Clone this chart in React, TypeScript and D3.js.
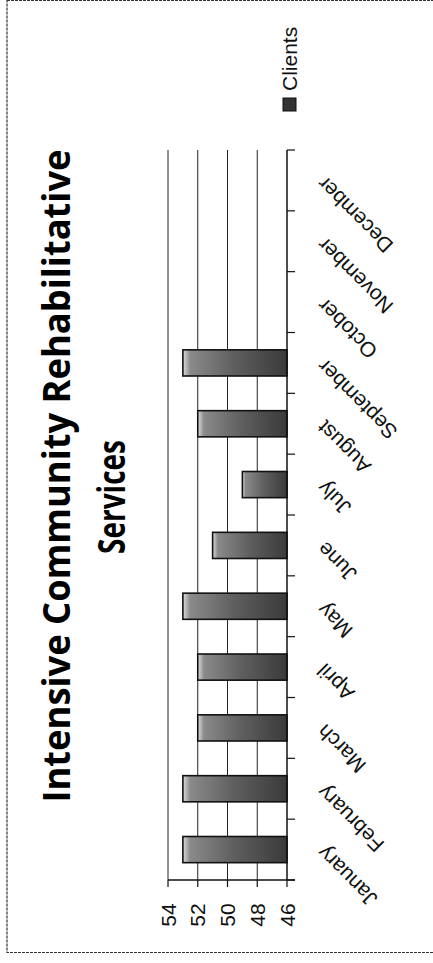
import React from "react";
import * as d3 from "d3";

const months = ["January","February","March","April","May","June","July","August","September","October","November","December"];
const clients: (number | null)[] = [53, 53, 52, 52, 53, 51, 49, 52, 53, null, null, null];
const valueTicks = [46, 48, 50, 52, 54];
const titleLines = ["Intensive Community Rehabilitative", "Services"];
const seriesName = "Clients";

export default function App() {
  const W = 433, H = 963;
  const x = d3.scaleLinear().domain([46, 54]).range([287, 168]);
  const y = d3.scaleBand<string>().domain([...months].reverse()).range([150, 880]).paddingInner(0.57).paddingOuter(0.285);
  const step = y.step();
  const font = "'Liberation Sans', Arial, sans-serif";
  return (
    <svg width={W} height={H} style={{ position: "absolute", left: 0, top: 0, background: "#fff" }}>
      <defs>
        <linearGradient id="barg" x1="0" x2="1" y1="0" y2="0">
          <stop offset="0" stopColor="#dcdcdc" />
          <stop offset="0.07" stopColor="#8a8a8a" />
          <stop offset="0.5" stopColor="#5e5e5e" />
          <stop offset="1" stopColor="#3a3a3a" />
        </linearGradient>
      </defs>
      <rect x={7} y={0.5} width={W + 10} height={952} fill="none" stroke="#333" strokeWidth={1.2} strokeDasharray="3 1" />
      <text transform={`translate(70,476) rotate(-90)`} textAnchor="middle" fontFamily="'Open Sans', sans-serif" fontWeight="bold" fontSize={38} textLength={653} lengthAdjust="spacingAndGlyphs">{titleLines[0]}</text>
      <text transform={`translate(125,497) rotate(-90)`} textAnchor="middle" fontFamily="'Open Sans', sans-serif" fontWeight="bold" fontSize={38} textLength={114} lengthAdjust="spacingAndGlyphs">{titleLines[1]}</text>
      {valueTicks.filter(v => v !== 46).map(v => (
        <line key={v} x1={x(v)} x2={x(v)} y1={150} y2={880} stroke="#222" strokeWidth={1} />
      ))}
      <line x1={x(54)} x2={295} y1={880} y2={880} stroke="#111" strokeWidth={1.3} />
      {valueTicks.map(v => (
        <g key={v}>
          <line x1={x(v)} x2={x(v)} y1={880} y2={887} stroke="#111" strokeWidth={1.2} />
          <text transform={`translate(${x(v) + 7.5},915) rotate(-90)`} textAnchor="middle" fontFamily={font} fontSize={21} fill="#111">{v}</text>
        </g>
      ))}
      {months.map((m, i) => {
        const v = clients[i];
        if (v == null) return null;
        return (
          <rect key={m} x={x(v)} y={y(m)!} width={x(46) - x(v)} height={y.bandwidth()} fill="url(#barg)" stroke="#111" strokeWidth={1.6} />
        );
      })}
      <line x1={287} x2={287} y1={150} y2={880} stroke="#111" strokeWidth={1.5} />
      {d3.range(13).map(k => (
        <line key={k} x1={287} x2={295} y1={150 + k * step} y2={150 + k * step} stroke="#111" strokeWidth={1.2} />
      ))}
      {months.map(m => {
        const cy = y(m)! + y.bandwidth() / 2;
        return (
          <text key={m} transform={`translate(326,${cy - 5}) rotate(-135)`} textAnchor="end" fontFamily={font} fontSize={21} fill="#111">{m}</text>
        );
      })}
      <rect x={283} y={98} width={13} height={13} fill="#333" stroke="#111" />
      <text transform={`translate(297,91) rotate(-90)`} textAnchor="start" fontFamily={font} fontSize={21} fill="#111">{seriesName}</text>
    </svg>
  );
}
